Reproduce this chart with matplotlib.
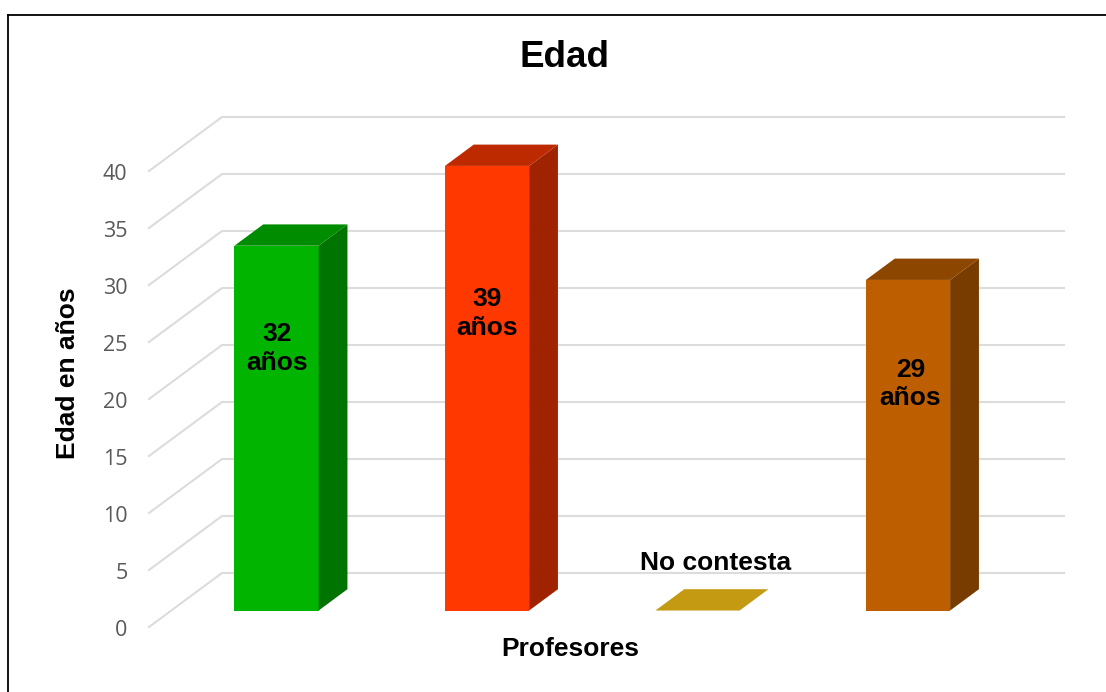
import matplotlib
matplotlib.use("Agg")
import matplotlib.pyplot as plt
from matplotlib.lines import Line2D
from matplotlib.transforms import ScaledTranslation

# Chart data
categories = ["Profesor 1", "Profesor 2", "No contesta", "Profesor 4"]
ages = [32, 39, 0, 29]
bar_labels = ["32\naños", "39\naños", "No contesta", "29\naños"]
y_ticks = [0, 5, 10, 15, 20, 25, 30, 35, 40]

front_colors = ["#00B400", "#FF3800", "#C49A12", "#BD5E00"]
top_colors = ["#008C00", "#BE2A00", "#C49A12", "#8C4600"]
side_colors = ["#007400", "#A02300", "#C49A12", "#783C00"]

W, H = 1106, 692
BOLD = ["Liberation Sans", "DejaVu Sans"]

fig = plt.figure(figsize=(W / 100, H / 100), dpi=100, facecolor="white")

# Plot frame in pixels: floor's front-left corner to the back wall's top-right corner
left, right, bottom, top = 149, 1064, 627, 117
ax = fig.add_axes([left / W, 1 - bottom / H, (right - left) / W, (bottom - top) / H])

unit_x = 210.5   # pixels per category
unit_y = 11.4    # pixels per year
depth_x = 73 / unit_x
depth_y = 54 / unit_y
n = len(categories)

ax.set_xlim(0, n + depth_x)
ax.set_ylim(0, 40 + depth_y)
ax.patch.set_visible(False)
for spine in ax.spines.values():
    spine.set_visible(False)


def project(u, v, d):
    """Oblique projection of (category, value, depth) on to the axes."""
    return u + d * depth_x, v + d * depth_y


# Gridlines run along the side wall and then across the back wall
for tick in y_ticks:
    pts = [project(0, tick, 0), project(0, tick, 1), project(n, tick, 1)]
    ax.plot(*zip(*pts), color="#DCDCDC", lw=1.5, zorder=1, solid_joinstyle="miter",
            clip_on=False)

# Bars: front face, right side and top
bar_w, d0, d1 = 0.40, 0.305, 0.70
for i, age in enumerate(ages):
    x0 = i + 0.5 - bar_w / 2
    x1 = x0 + bar_w
    fx, fy = project(x0, 0, d0)
    if age > 0:
        ax.bar(fx, age, width=bar_w, bottom=fy, align="edge",
               color=front_colors[i], lw=0, zorder=3)
    side = [project(x1, 0, d0), project(x1, 0, d1), project(x1, age, d1), project(x1, age, d0)]
    ax.fill(*zip(*side), color=side_colors[i], lw=0, zorder=3)
    lid = [project(x0, age, d0), project(x1, age, d0), project(x1, age, d1), project(x0, age, d1)]
    ax.fill(*zip(*lid), color=top_colors[i], lw=0, zorder=3)

# Value labels, placed by hand in pixels
label_px = [(277, 348.5), (487, 313.5), (716, 562.5), (910.5, 384)]
for text, (px, py) in zip(bar_labels, label_px):
    fig.text(px / W, 1 - py / H, text, ha="center", va="center", fontsize=19,
             fontweight="bold", family=BOLD, linespacing=1.22, color="black", zorder=5)

# Axis ticks and labels
ax.set_xticks([])
ax.set_yticks(y_ticks)
ax.tick_params(axis="y", length=0, pad=15.5, labelsize=15.5, labelcolor="#595959")
nudge = ScaledTranslation(0, -1 / 100, fig.dpi_scale_trans)
for lab in ax.get_yticklabels():
    lab.set_family(["Open Sans", "DejaVu Sans"])
    lab.set_transform(lab.get_transform() + nudge)

fig.text(564 / W, 1 - 57.5 / H, "Edad", ha="center", va="center", fontsize=26.5,
         fontweight="bold", family=BOLD)
fig.text(570.5 / W, 1 - 649 / H, "Profesores", ha="center", va="center", fontsize=19,
         fontweight="bold", family=BOLD)
fig.text(68 / W, 1 - 373 / H, "Edad en años", ha="center", va="center", rotation=90,
         fontsize=19, fontweight="bold", family=BOLD)

# Outer frame: only the top and left edges fall inside the canvas
frame = dict(color="black", lw=1.3, solid_capstyle="projecting")
fig.add_artist(Line2D([8 / W, 8 / W], [0, 1 - 14.5 / H], **frame))
fig.add_artist(Line2D([8 / W, 1], [1 - 14.5 / H, 1 - 14.5 / H], **frame))

fig.savefig("out.png", dpi=100)
